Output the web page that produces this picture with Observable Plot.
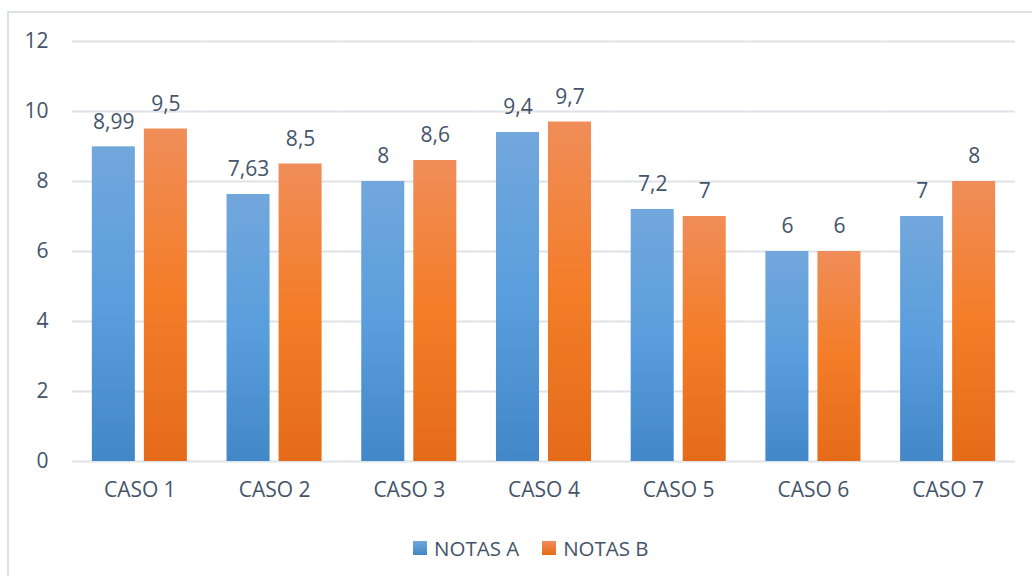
<!DOCTYPE html>
<html>
<head>
<meta charset="utf-8">
<script src="https://cdn.jsdelivr.net/npm/d3@7"></script>
<script src="https://cdn.jsdelivr.net/npm/@observablehq/plot@0.6"></script>
<style>
  html, body { margin: 0; padding: 0; background: #fff; width: 1032px; height: 576px; overflow: hidden; }
  #frame { position: absolute; left: 7px; top: 11px; width: 1100px; height: 700px; border-left: 2px solid #dde1e6; border-top: 2px solid #dde1e6; }
  #chart { position: absolute; left: 0; top: 0; }
  #legend { position: absolute; left: 413px; top: 534px; display: flex; align-items: center; font-family: "Open Sans", sans-serif; font-size: 20.5px; color: #44546a; }
  #legend .sw { width: 14px; height: 14px; margin-right: 7px; }
  #legend .item { display: flex; align-items: center; margin-right: 23px; }
</style>
</head>
<body>
<div id="frame"></div>
<div id="chart"></div>
<div id="legend"></div>
<script>
const cases = ["CASO 1", "CASO 2", "CASO 3", "CASO 4", "CASO 5", "CASO 6", "CASO 7"];
const seriesNames = ["NOTAS A", "NOTAS B"];
const notasA = [8.99, 7.63, 8, 9.4, 7.2, 6, 7];
const notasB = [9.5, 8.5, 8.6, 9.7, 7, 6, 8];
const yTicks = [0, 2, 4, 6, 8, 10, 12];

const data = [];
cases.forEach((c, i) => {
  data.push({caso: c, serie: seriesNames[0], value: notasA[i]});
  data.push({caso: c, serie: seriesNames[1], value: notasB[i]});
});

const textColor = "#44546a";
const fmt = v => String(v).replace(".", ",");

const chart = Plot.plot({
  width: 1032,
  height: 515,
  marginTop: 41,
  marginBottom: 54,
  marginLeft: 72,
  marginRight: 17,
  style: {fontFamily: "'Open Sans', sans-serif", fontSize: "21px", color: textColor, background: "transparent", overflow: "visible"},
  fx: {domain: cases, padding: 0, round: false, label: null, axis: "bottom", tickSize: 0, tickPadding: 21},
  x: {domain: seriesNames, paddingInner: 0.173, paddingOuter: 0.381, round: false, axis: null},
  y: {domain: [0, 12], ticks: yTicks, label: null, tickSize: 0, tickPadding: 24, tickFormat: d => d},
  marks: [
    Plot.ruleY(yTicks, {y: d => d, stroke: "#dfe2e6", strokeWidth: 2}),
    Plot.barY(data.filter(d => d.serie === seriesNames[0]), {fx: "caso", x: "serie", y: "value", fill: "url(#gradA)"}),
    Plot.barY(data.filter(d => d.serie === seriesNames[1]), {fx: "caso", x: "serie", y: "value", fill: "url(#gradB)"}),
    Plot.text(data, {fx: "caso", x: "serie", y: "value", text: d => fmt(d.value), dy: -25, fill: textColor, fontSize: 21})
  ]
});

// gradient defs
const svg = d3.select(chart);
const defs = svg.insert("defs", ":first-child");
function grad(id, stops) {
  const g = defs.append("linearGradient").attr("id", id).attr("x1", 0).attr("y1", 0).attr("x2", 0).attr("y2", 1);
  stops.forEach(([o, c]) => g.append("stop").attr("offset", o).attr("stop-color", c));
}
grad("gradA", [[0, "#72a7dc"], [0.5, "#5a9edd"], [1, "#4287c7"]]);
grad("gradB", [[0, "#f08d58"], [0.5, "#f47d28"], [1, "#e56b18"]]);

document.getElementById("chart").appendChild(chart);

// legend
const legend = document.getElementById("legend");
const swatches = ["linear-gradient(#72a7dc, #4287c7)", "linear-gradient(#f08d58, #e56b18)"];
seriesNames.forEach((name, i) => {
  const item = document.createElement("div");
  item.className = "item";
  const sw = document.createElement("div");
  sw.className = "sw";
  sw.style.background = swatches[i];
  const label = document.createElement("span");
  label.textContent = name;
  item.appendChild(sw);
  item.appendChild(label);
  legend.appendChild(item);
});
</script>
</body>
</html>
